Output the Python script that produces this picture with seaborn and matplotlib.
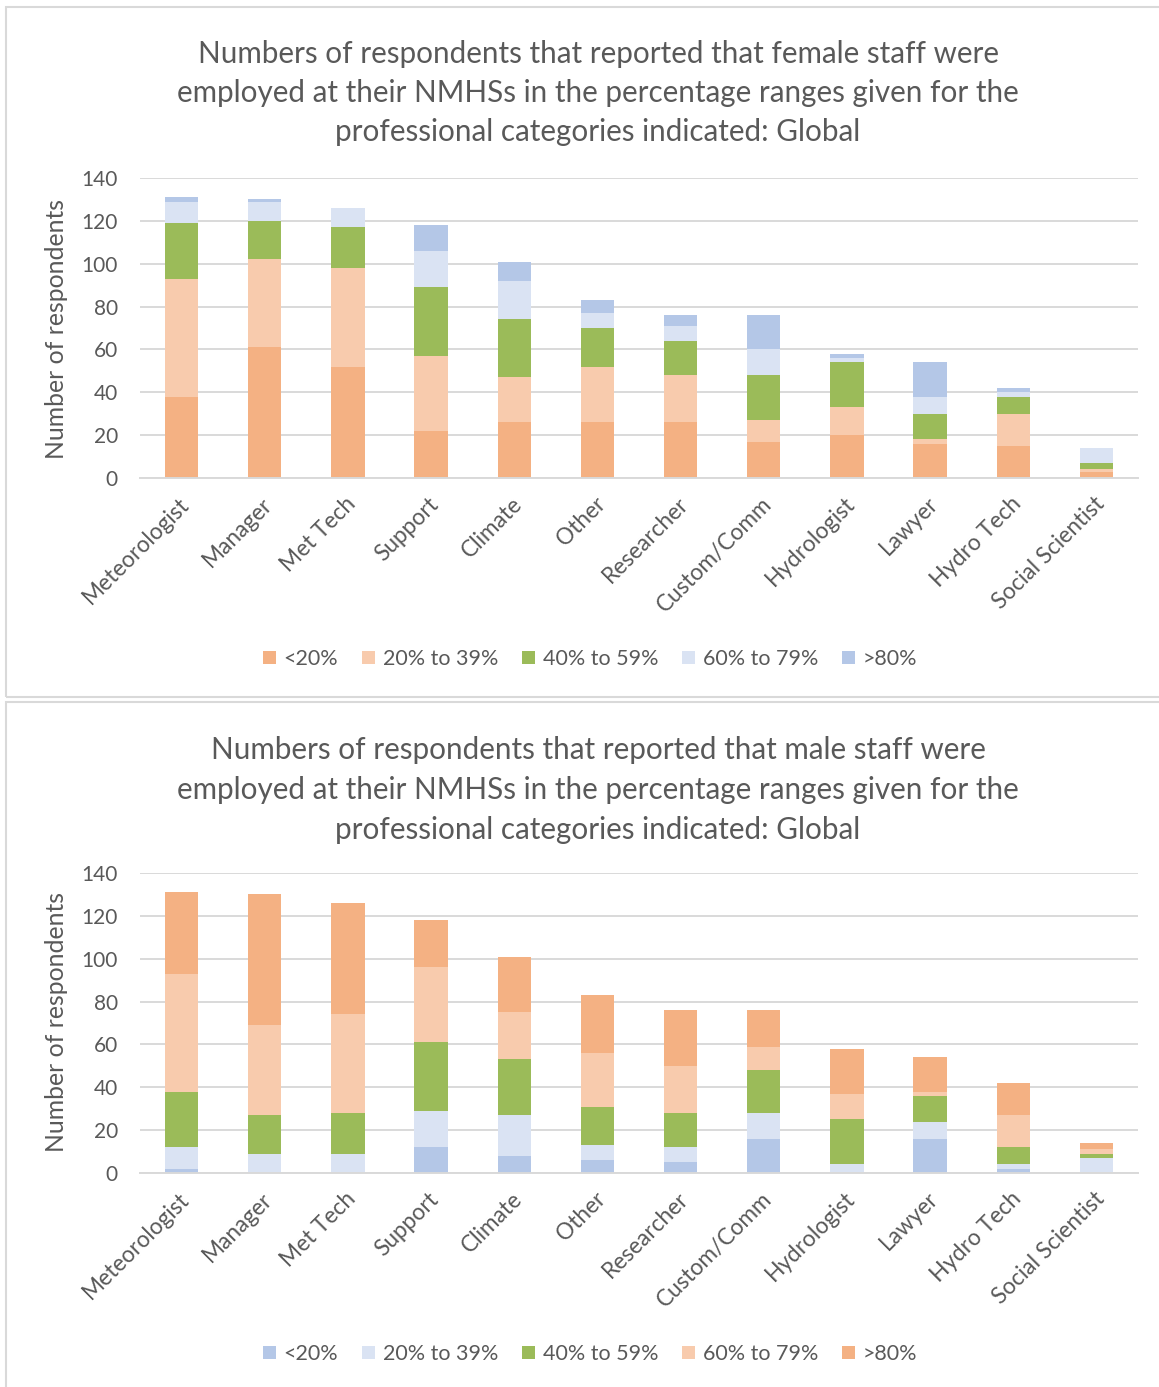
import numpy as np
import pandas as pd
import matplotlib.pyplot as plt
import seaborn as sns
from matplotlib.patches import Patch, Rectangle
from matplotlib.transforms import ScaledTranslation

# Categories and percentage ranges
categories = ["Meteorologist", "Manager", "Met Tech", "Support", "Climate", "Other",
              "Researcher", "Custom/Comm", "Hydrologist", "Lawyer", "Hydro Tech", "Social Scientist"]
ranges = ["<20%", "20% to 39%", "40% to 59%", "60% to 79%", ">80%"]

# Female staff (stacked bottom to top)
female_lt20 = [38, 61, 52, 22, 26, 26, 26, 17, 20, 16, 15, 3]
female_20_39 = [55, 41, 46, 35, 21, 26, 22, 10, 13, 2, 15, 1]
female_40_59 = [26, 18, 19, 32, 27, 18, 16, 21, 21, 12, 8, 3]
female_60_79 = [10, 9, 9, 17, 18, 7, 7, 12, 2, 8, 2, 7]
female_gt80 = [2, 1, 0, 12, 9, 6, 5, 16, 2, 16, 2, 0]

# Male staff (stacked bottom to top)
male_lt20 = [2, 0, 0, 12, 8, 6, 5, 16, 0, 16, 2, 0]
male_20_39 = [10, 9, 9, 17, 19, 7, 7, 12, 4, 8, 2, 7]
male_40_59 = [26, 18, 19, 32, 26, 18, 16, 20, 21, 12, 8, 2]
male_60_79 = [55, 42, 46, 35, 22, 25, 22, 11, 12, 2, 15, 2]
male_gt80 = [38, 61, 52, 22, 26, 27, 26, 17, 21, 16, 15, 3]

female_colors = ["#F4B183", "#F8CBAD", "#9BBB59", "#DAE3F3", "#B4C7E7"]
male_colors = ["#B4C7E7", "#DAE3F3", "#9BBB59", "#F8CBAD", "#F4B183"]

female_title = ("Numbers of respondents that reported that female staff were\n"
                "employed at their NMHSs in the percentage ranges given for the\n"
                "professional categories indicated: Global")
male_title = ("Numbers of respondents that reported that male staff were\n"
              "employed at their NMHSs in the percentage ranges given for the\n"
              "professional categories indicated: Global")

sns.set_style("white")
plt.rcParams['font.family'] = ['Lato', 'DejaVu Sans']
TXT = "#595959"

fig = plt.figure(figsize=(11.59, 13.87), dpi=100)

# panel frames
fig.add_artist(Rectangle((6 / 1159, 1 - 697 / 1387), 1.05, 690 / 1387, transform=fig.transFigure,
                         facecolor="none", edgecolor="#D9D9D9", lw=1.5))
fig.add_artist(Rectangle((6 / 1159, -0.02), 1.05, 1 - 702 / 1387 + 0.02, transform=fig.transFigure,
                         facecolor="none", edgecolor="#D9D9D9", lw=1.5))


def draw_panel(rect, series, colors, title, title_y, ylabel_y, legend_y):
    ax = fig.add_axes(rect)
    df = pd.DataFrame(dict(zip(ranges, series)), index=categories)
    cum = df.cumsum(axis=1)
    # draw from the tallest cumulative down so each segment shows
    for i in range(len(ranges) - 1, -1, -1):
        sns.barplot(x=categories, y=cum[ranges[i]].values, color=colors[i], width=0.4,
                    saturation=1, errorbar=None, edgecolor="none", ax=ax)
    ax.set_ylim(0, 140)
    ax.set_xlim(-0.5, len(categories) - 0.5)
    ax.set_yticks(range(0, 141, 20))
    ax.yaxis.grid(True, color="#D9D9D9", linewidth=1.4)
    ax.set_axisbelow(True)
    for s in ["top", "right", "left"]:
        ax.spines[s].set_visible(False)
    ax.spines["bottom"].set_color("#D9D9D9")
    ax.spines["bottom"].set_linewidth(1.4)
    ax.tick_params(axis="y", length=0, pad=16, labelsize=15, labelcolor=TXT)
    ax.tick_params(axis="x", length=0, pad=11, labelsize=16.3, labelcolor=TXT)
    ax.set_xticks(range(len(categories)))
    ax.set_xticklabels(categories, rotation=45, ha="right", va="top", rotation_mode="anchor")
    for lab in ax.get_xticklabels():
        lab.set_transform(lab.get_transform() + ScaledTranslation(-0.03, 0, fig.dpi_scale_trans))
    ax.set_xlabel("")
    ax.set_ylabel("")
    fig.text(57 / 1159, ylabel_y, "Number of respondents", rotation=90, ha="center", va="center",
             fontsize=17.8, color=TXT)
    fig.text(598 / 1159, title_y, title, ha="center", va="center", fontsize=21.3, color=TXT,
             linespacing=1.5)
    handles = [Patch(facecolor=c, edgecolor="none", label=r) for c, r in zip(colors, ranges)]
    fig.legend(handles=handles, loc="center", bbox_to_anchor=(590 / 1159, legend_y), ncol=5,
               frameon=False, fontsize=15.5, labelcolor=TXT, handlelength=0.6, handleheight=0.6,
               handletextpad=0.35, columnspacing=1.12)
    return ax


draw_panel([140 / 1159, 1 - 478 / 1387, 998 / 1159, 300 / 1387],
           [female_lt20, female_20_39, female_40_59, female_60_79, female_gt80],
           female_colors, female_title, 1 - 93 / 1387, 1 - 329 / 1387, 1 - 659 / 1387)
draw_panel([140 / 1159, 1 - 1173 / 1387, 998 / 1159, 300 / 1387],
           [male_lt20, male_20_39, male_40_59, male_60_79, male_gt80],
           male_colors, male_title, 1 - 790 / 1387, 1 - 1022 / 1387, 1 - 1354 / 1387)

fig.savefig("out.png", dpi=100)
